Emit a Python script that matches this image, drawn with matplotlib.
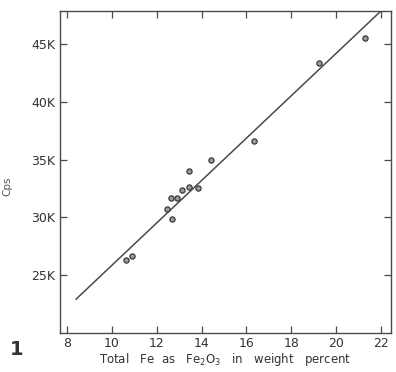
import matplotlib.pyplot as plt
from matplotlib.ticker import FuncFormatter

# measured samples: total Fe as Fe2O3 (wt %) vs counts per second
fe2o3 = [10.63, 10.90, 12.46, 12.68, 12.64, 12.90, 13.13, 13.44, 13.84,
         13.44, 14.42, 16.34, 19.23, 21.29]
cps = [26300, 26640, 30710, 29850, 31670, 31670, 32360, 32620, 32530,
       34000, 34960, 36600, 43350, 45520]

# calibration line end points
fit_x = [8.4, 22.0]
fit_y = [22900, 47860]

x_ticks = [8, 10, 12, 14, 16, 18, 20, 22]
y_ticks = [25000, 30000, 35000, 40000, 45000]

ink = '#4a4a4a'

fig = plt.figure(figsize=(3.96, 3.72), dpi=100)
ax = fig.add_axes([0.152, 0.105, 0.835, 0.865])

ax.plot(fit_x, fit_y, color=ink, lw=1.1)
ax.scatter(fe2o3, cps, s=14, facecolor='#9a9a9a', edgecolor='#3a3a3a',
           linewidths=0.9, zorder=3)

ax.set_xlim(7.69, 22.45)
ax.set_ylim(19970, 47860)
ax.set_xticks(x_ticks)
ax.set_yticks(y_ticks)
ax.yaxis.set_major_formatter(FuncFormatter(lambda v, p: '%dK' % (v / 1000)))

ax.tick_params(direction='in', length=5, width=0.9, colors=ink,
               top=True, right=True, labelsize=9, labelcolor='#333333')
ax.tick_params(axis='x', pad=3)
for s in ax.spines.values():
    s.set_color(ink)
    s.set_linewidth(1.0)

ax.set_xlabel('Total   Fe  as   Fe$_2$O$_3$   in   weight   percent',
              fontsize=8.5, color='#333333', labelpad=1)
ax.set_ylabel('Cps', fontsize=7.5, color='#555555')
ax.yaxis.set_label_coords(-0.145, 0.455)

fig.text(0.043, 0.06, '1', fontsize=14, fontweight='bold', color='#333333',
         ha='center', va='center')

fig.savefig('out.png', dpi=100)
